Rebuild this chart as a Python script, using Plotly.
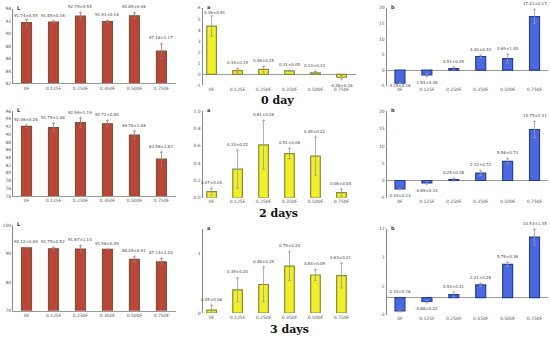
import numpy as np
import plotly.graph_objects as go

W, H = 550, 340

cats = ["0F", "0.125F", "0.250F", "0.350F", "0.500F", "0.750F"]

# Row 1 (0 day)
L0 = [91.74, 91.85, 92.79, 91.91, 92.85, 87.18]
L0_err = [0.55, 0.16, 0.55, 0.16, 0.46, 1.17]
a0 = [4.36, 0.34, 0.46, 0.31, 0.13, -0.26]
a0_err = [0.91, 0.19, 0.25, 0.05, 0.13, 0.16]
b0 = [-4.19, -1.54, 0.51, 4.40, 3.69, 17.21]
b0_err = [0.18, 0.48, 0.45, 0.43, 1.40, 2.17]

# Row 2 (2 days)
L2 = [92.06, 91.75, 92.99, 92.72, 89.78, 83.56]
L2_err = [0.26, 1.08, 1.19, 0.80, 1.06, 1.83]
a2 = [0.07, 0.33, 0.61, 0.51, 0.48, 0.06]
a2_err = [0.04, 0.22, 0.28, 0.06, 0.22, 0.04]
b2 = [-2.43, -0.69, 0.25, 2.12, 5.56, 14.75]
b2_err = [0.13, 0.33, 0.38, 0.72, 0.73, 2.31]

# Row 3 (3 days)
L3 = [92.12, 91.75, 91.67, 91.56, 88.05, 87.14]
L3_err = [0.09, 0.52, 1.14, 0.09, 0.91, 1.20]
a3 = [0.05, 0.39, 0.48, 0.79, 0.64, 0.63]
a3_err = [0.08, 0.20, 0.29, 0.24, 0.09, 0.21]
b3 = [-2.33, -0.68, 0.53, 2.21, 5.79, 10.53]
b3_err = [0.16, 0.22, 0.41, 0.28, 0.36, 1.35]

day_titles = ["0 day", "2 days", "3 days"]
panel_letters = ["L", "a", "b"]

STYLE = {
    "L": dict(fill="#b8473a", line="#7a5535", err="#b07070"),
    "a": dict(fill="#f0f02a", line="#8a8a35", err="#999999"),
    "b": dict(fill="#4a68e0", line="#2a3c9a", err="#999999"),
}

# pixel geometry
col_x = [(13, 176, [-0.5, 5.54]), (202.5, 356, [-0.35, 5.56]), (386.5, 548, [-0.5, 5.5])]
row_specs = [
    [((6.7, 82.7), [82, 94], 2), ((6, 84.7), [-1, 6], 1), ((6, 85), [-5, 20], 5)],
    [((110.7, 197), [74, 96], 2), ((110.7, 198.7), [0, 1.0], 0.2), ((111, 198.7), [-5, 20], 5)],
    [((226.7, 313.3), [70, 100], 10), ((230, 315.7), [0, 1.42], 1), ((230, 317.5), [-3, 12], 5)],
]
data_grid = [
    [(L0, L0_err), (a0, a0_err), (b0, b0_err)],
    [(L2, L2_err), (a2, a2_err), (b2, b2_err)],
    [(L3, L3_err), (a3, a3_err), (b3, b3_err)],
]

fig = go.Figure()
layout = dict(
    width=W, height=H, margin=dict(l=0, r=0, t=0, b=0),
    paper_bgcolor="white", plot_bgcolor="white", showlegend=False,
    font=dict(family="DejaVu Sans", size=5, color="#555"),
)
annotations = []
n = 0
for r in range(3):
    for c in range(3):
        n += 1
        key = panel_letters[c]
        st = STYLE[key]
        vals, errs = data_grid[r][c]
        (ytop, ybot), yr, dt = row_specs[r][c]
        x0, x1, xr = col_x[c]
        xa = "x" if n == 1 else f"x{n}"
        ya = "y" if n == 1 else f"y{n}"
        fig.add_trace(go.Bar(
            x=list(range(6)), y=vals, width=0.37,
            marker=dict(color=st["fill"], line=dict(color=st["line"], width=1.2)),
            error_y=dict(type="data", array=errs, color=st["err"], thickness=0.8, width=1.5),
            xaxis=xa, yaxis=ya,
        ))
        suffix = "" if n == 1 else str(n)
        layout["xaxis" + suffix] = dict(
            domain=[x0 / W, x1 / W], range=xr, anchor=ya,
            tickmode="array", tickvals=list(range(6)), ticktext=cats,
            showline=(c == 0), linecolor="#999", linewidth=0.8,
            showgrid=False, zeroline=False, ticks="",
            tickfont=dict(size=4.5, color="#555"),
        )
        if r == 2 and c == 1:
            tv = [0, 1]
            tt = ["0", "1"]
        elif r == 2 and c == 2:
            tv = [-3, 2, 7, 12]
            tt = ["-3", "2", "7", "12"]
        else:
            tv = [float(v) for v in np.round(np.arange(yr[0], yr[1] + dt / 2, dt), 2)]
            if dt < 1:
                tt = [f"{v:.1f}" for v in tv]
            else:
                tt = [f"{int(round(v))}" for v in tv]
        layout["yaxis" + suffix] = dict(
            domain=[1 - ybot / H, 1 - ytop / H], range=yr, anchor=xa,
            tickmode="array", tickvals=tv, ticktext=tt,
            showline=True, linecolor="#888", linewidth=0.8,
            showgrid=False, zeroline=(c != 0 and yr[0] < 0),
            zerolinecolor="#999", zerolinewidth=0.8, ticks="",
            tickfont=dict(size=4.5, color="#555"),
        )
        # value labels
        for i, (v, e) in enumerate(zip(vals, errs)):
            ax = 0
            if v >= 0:
                yy, ay = v + e, -6
            elif r == 2 and c == 2 and i == 0:
                yy, ay = 0, -6
            elif r == 0 and c == 2 and i == 0:
                yy, ay = v - e, 2
            else:
                yy, ay = v - e, 6
            if r == 0 and i == 0 and c < 2:
                ay = -4
                ax = 3 if c == 1 else 0
            annotations.append(dict(
                xref=xa, yref=ya, x=i, y=yy, text=f"{v:.2f}±{e:.2f}",
                showarrow=True, arrowhead=0, arrowwidth=0.5, arrowcolor="#aaa",
                ax=ax, ay=ay, font=dict(size=4, color="#444"),
            ))
        # panel letter
        annotations.append(dict(
            xref="paper", yref="paper", x=(x0 + 2) / W, y=1 - max(ytop - 6, 0.3) / H,
            text=f"<b>{key}</b>", showarrow=False, xanchor="left", yanchor="top",
            font=dict(size=5, color="#333"),
        ))

title_pos = [(277.5, 100), (278.7, 214.5), (289, 332)]
for t, (tx, ty) in zip(day_titles, title_pos):
    annotations.append(dict(
        xref="paper", yref="paper", x=tx / W, y=1 - ty / H, text=f"<b>{t}</b>",
        showarrow=False, xanchor="center", yanchor="middle",
        font=dict(family="DejaVu Serif", size=11, color="#111"),
    ))

layout["annotations"] = annotations
fig.update_layout(**layout)
fig.write_html(
    "out.html",
    config={"displayModeBar": False},
    post_script="document.body.style.margin='0';document.body.style.padding='0';document.body.style.overflow='hidden';",
)
